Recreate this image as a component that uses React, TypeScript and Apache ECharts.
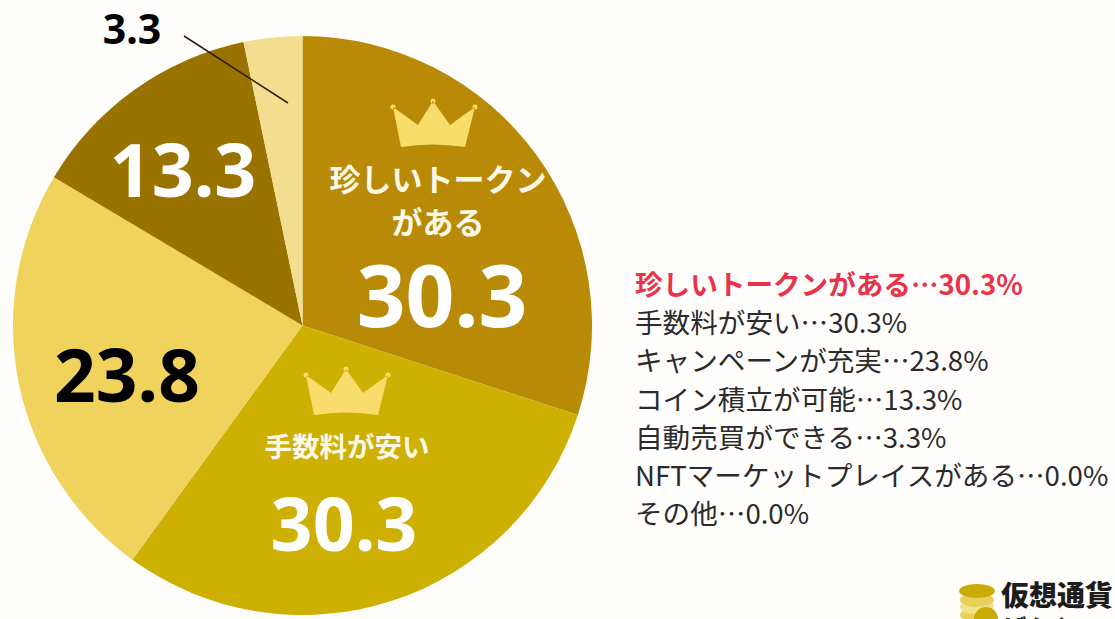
import React, { useEffect, useRef } from "react";
import * as echarts from "echarts";

const categories = ["珍しいトークンがある", "手数料が安い", "キャンペーンが充実", "コイン積立が可能", "自動売買ができる", "NFTマーケットプレイスがある", "その他"];
const values = [30.3, 30.3, 23.8, 13.3, 3.3, 0.0, 0.0];
const sliceColors = ["#b98a05", "#cdb002", "#efd35c", "#9a7200", "#f3de8f", "#ffffff", "#ffffff"];
const legendRows = categories.map((c, i) => `${c}…${values[i].toFixed(1)}%`);
const FONT = '"Noto Sans CJK JP", "Noto Sans", sans-serif';
const NUM = '"Noto Sans", "Noto Sans CJK JP", sans-serif';

const dot = (x: number, y: number) => `M${x - 2.5} ${y} a2.5 2.5 0 1 0 5 0 a2.5 2.5 0 1 0 -5 0 Z`;
const crownPath = "M3 9 L28 27 L43 3 L60 27 L85 9 L75 49 Q43 44 11 49 Z " + dot(3, 9) + " " + dot(43, 3) + " " + dot(85, 9);

export default function App() {
  const ref = useRef<HTMLDivElement>(null);
  useEffect(() => {
    echarts.graphic.registerShape("crown", echarts.graphic.extendPath(crownPath, {}));
    const chart = echarts.init(ref.current!, null, { renderer: "svg" });
    const num = (x: number, y: number, text: string, size: number, fill: string) => ({
      type: "text", z: 10, x, y, style: { text, fontSize: size, lineHeight: size * 0.9, fontWeight: 700, fill, fontFamily: NUM, align: "center", verticalAlign: "middle" },
    });
    const cap = (x: number, y: number, text: string, size: number) => ({
      type: "text", z: 10, x, y, style: { text, fontSize: size, lineHeight: size, fontWeight: 700, fill: "#fdf8e8", fontFamily: FONT, align: "center", verticalAlign: "middle" },
    });
    chart.setOption({
      animation: false,
      backgroundColor: "#fffefc",
      series: [{
        type: "pie",
        center: [302.5, 325.5],
        radius: [0, 289.5],
        startAngle: 90,
        clockwise: true,
        silent: true,
        label: { show: false },
        labelLine: { show: false },
        itemStyle: { borderWidth: 0 },
        data: categories.map((name, i) => ({ name, value: values[i], itemStyle: { color: sliceColors[i] } })),
      }],
      graphic: [
        { type: "crown", z: 10, x: 390, y: 98, style: { fill: "#f8dd6c" } },
        { type: "crown", z: 10, x: 303, y: 366, style: { fill: "#f8dd6c" } },
        cap(438, 177, "珍しいトークン", 31),
        cap(438, 220, "がある", 31),
        cap(347, 445, "手数料が安い", 27.5),
        num(442, 294, "30.3", 85.5, "#ffffff"),
        num(344, 522, "30.3", 73.5, "#ffffff"),
        num(127, 373, "23.8", 73, "#000000"),
        num(183, 168, "13.3", 73.5, "#ffffff"),
        num(132, 28, "3.3", 41, "#000000"),
        { type: "line", z: 11, shape: { x1: 184, y1: 36, x2: 288, y2: 103 }, style: { stroke: "#2a1c08", lineWidth: 1.5 } },
        ...legendRows.map((text, i) => ({
          type: "text", z: 10, x: 635, y: 283 + i * 38.2,
          style: {
            text, fontSize: 27.6, lineHeight: 32, fontFamily: FONT, align: "left", verticalAlign: "middle",
            fontWeight: i === 0 ? 700 : 400, fill: i === 0 ? "#e8344a" : "#2b2b2b",
          },
        })),
        { type: "ellipse", z: 10, shape: { cx: 977, cy: 615, rx: 17, ry: 7 }, style: { fill: "#e6d25a" } },
        { type: "ellipse", z: 11, shape: { cx: 977, cy: 607, rx: 17, ry: 7 }, style: { fill: "#f2e48a" } },
        { type: "ellipse", z: 12, shape: { cx: 977, cy: 600, rx: 17, ry: 7 }, style: { fill: "#e6d25a" } },
        { type: "ellipse", z: 13, shape: { cx: 977, cy: 591, rx: 18, ry: 7 }, style: { fill: "#c9ac08" } },
        { type: "circle", z: 14, shape: { cx: 986, cy: 619, r: 12 }, style: { fill: "#c9ac08" } },
        { type: "text", z: 10, x: 1001, y: 594, style: { text: "仮想通貨", fontSize: 28, lineHeight: 28, fontWeight: 900, fill: "#1c1c1c", fontFamily: FONT, align: "left", verticalAlign: "middle" } },
        { type: "text", z: 10, x: 1004, y: 625, style: { text: "ばんく", fontSize: 22, lineHeight: 22, fontWeight: 900, fill: "#1c1c1c", fontFamily: FONT, align: "left", verticalAlign: "middle" } },
      ],
    });
    return () => chart.dispose();
  }, []);
  return <div ref={ref} style={{ position: "fixed", left: 0, top: 0, width: 1115, height: 619 }} />;
}
